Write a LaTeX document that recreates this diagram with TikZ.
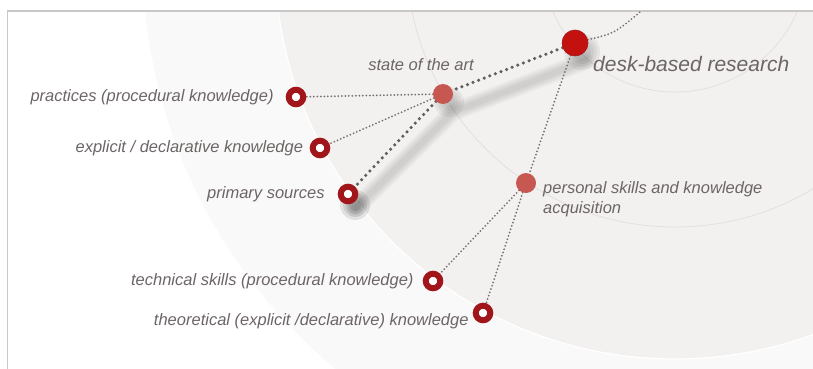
\documentclass[tikz,border=0pt]{standalone}
\usepackage{fontspec}
\setmainfont{Liberation Sans}
\usetikzlibrary{positioning,backgrounds}

\definecolor{ringred}{HTML}{A0161B}
\definecolor{deskred}{HTML}{C3110F}
\definecolor{softred}{HTML}{C65751}
\definecolor{labelgrey}{HTML}{6C6565}
\definecolor{dotgrey}{HTML}{767070}
\definecolor{thickgrey}{HTML}{625D5D}
\definecolor{framegrey}{HTML}{C8C8C8}
\definecolor{outerdisc}{HTML}{FAF9F9}
\definecolor{innerdisc}{HTML}{F3F1F0}
\definecolor{arcgrey}{HTML}{E3DFDE}

\tikzset{
  ring/.style={circle, draw=ringred, line width=6pt, fill=white, minimum size=14.5pt, inner sep=0pt},
  bigdot/.style={circle, fill=deskred, draw=ringred, line width=0.6pt, minimum size=26pt, inner sep=0pt},
  softdot/.style={circle, fill=softred, minimum size=20pt, inner sep=0pt},
  lbl/.style={font=\fontsize{16.5}{20}\selectfont\itshape, text=labelgrey, inner sep=0pt},
  sidelbl/.style={lbl, text height=11.8pt, text depth=3.4pt},
  thinlink/.style={draw=dotgrey, line width=2pt, line cap=round, dash pattern=on 0pt off 3.5pt},
  thicklink/.style={draw=thickgrey, line width=3.5pt, line cap=round, dash pattern=on 0pt off 6pt},
  shadowband/.style={line width=#1, line cap=round, line join=round, black, opacity=0.035}
}

\begin{document}
\begin{tikzpicture}[x=1pt, y=-1pt]
\useasboundingbox (0,0) rectangle (813,369);

% knowledge nodes
\node[bigdot] (desk) at (575,43) {};
\node[softdot] (state) at (443,94) {};
\node[softdot] (personal) at (526,183) {};
\node[ring] (practices) at (296,97) {};
\node[ring] (explicit) at (320,148) {};
\node[ring] (primary) at (348,194) {};
\node[ring] (technical) at (433,281) {};
\node[ring] (theoretical) at (483,313) {};
\coordinate (topend) at (640,12);

% labels
\node[lbl, font=\fontsize{21}{24}\selectfont\itshape, anchor=base west] (desklabel) at (593,71) {desk-based research};
\node[sidelbl, above=10pt of state, xshift=-22pt] (statelabel) {state of the art};
\node[sidelbl, left=12pt of practices] (practiceslabel) {practices (procedural knowledge)};
\node[sidelbl, left=6.5pt of explicit] (explicitlabel) {explicit / declarative knowledge};
\node[sidelbl, left=13pt of primary] (primarylabel) {primary sources};
\node[sidelbl, left=9pt of technical] (technicallabel) {technical skills (procedural knowledge)};
\node[sidelbl, left=4pt of theoretical, yshift=-8pt] (theoreticallabel) {theoretical (explicit /declarative) knowledge};
\node[lbl, align=left, anchor=north west] (personallabel) at (543,181) {personal skills and knowledge\\acquisition};

\begin{scope}[on background layer]
  % rings of the field
  \begin{scope}
    \clip (8,12) rectangle (813,369);
    \fill[outerdisc] (675,-41) circle[radius=533pt];
    \draw[white, line width=1.5pt] (675,-41) circle[radius=533pt];
    \fill[innerdisc] (675,-41) circle[radius=400pt];
    \draw[white, line width=1.2pt] (675,-41) circle[radius=400pt];
    \draw[arcgrey, line width=0.8pt] (675,-41) circle[radius=268pt];
    \draw[arcgrey, line width=0.8pt] (675,-41) circle[radius=133pt];
  \end{scope}
  \draw[framegrey, line width=1.5pt] (7.5,369) |- (813,11);

  % shadows
  \foreach \w in {18,14,10,6}
    \draw[shadowband=\w pt] ([shift={(10pt,-18pt)}]desk.center) -- ([shift={(10pt,-18pt)}]state.center) -- ([shift={(8pt,-14pt)}]primary.center);
  \foreach \r in {18,15,12,9}{
    \fill[black, opacity=0.05] ([shift={(7pt,-9pt)}]desk.center) circle[radius=\r pt];
    \fill[black, opacity=0.05] ([shift={(6pt,-8pt)}]state.center) circle[radius=\r pt-3pt];
    \fill[black, opacity=0.09] ([shift={(7pt,-11pt)}]primary.center) circle[radius=\r pt-3pt];
  }

  % links
  \draw[thicklink] (desk) -- (state);
  \draw[thicklink] (state) -- (primary);
  \draw[thinlink] (state) -- (practices);
  \draw[thinlink] (state) -- (explicit);
  \draw[thinlink] (desk) -- (personal);
  \draw[thinlink] (personal) -- (technical);
  \draw[thinlink] (personal) -- (theoretical);
  \draw[thinlink] (desk) .. controls (615,33) .. (topend);
\end{scope}
\end{tikzpicture}
\end{document}
